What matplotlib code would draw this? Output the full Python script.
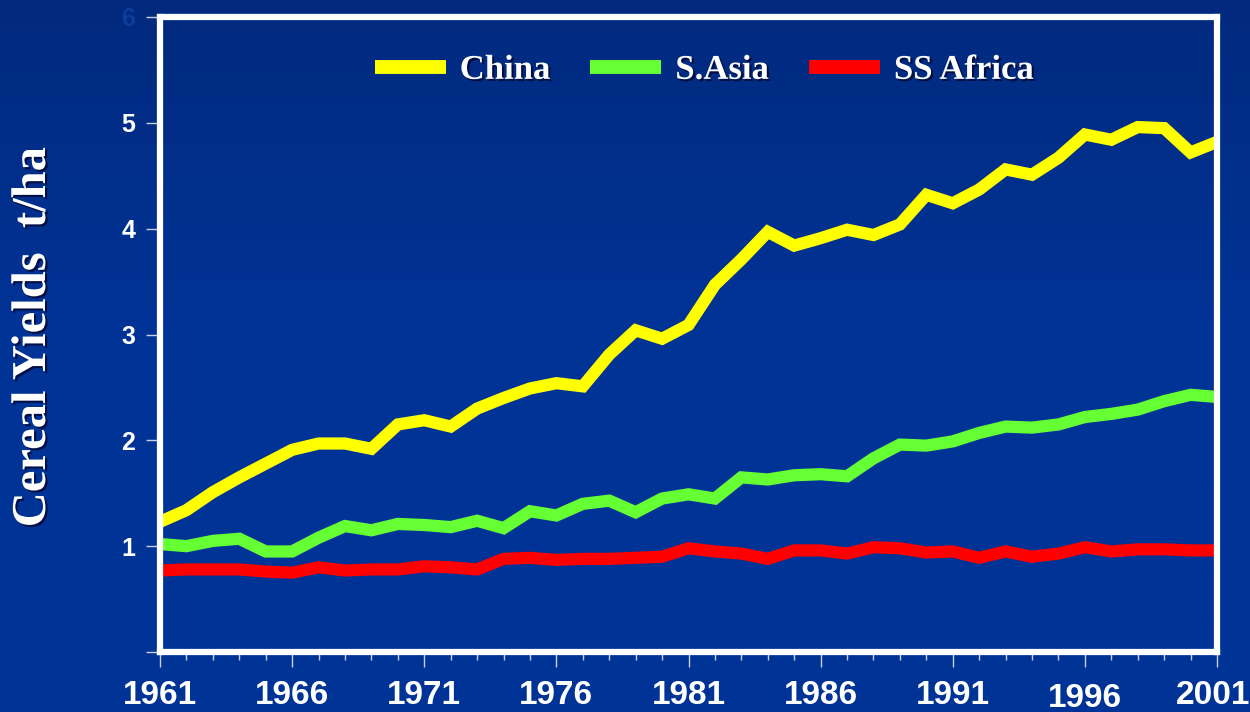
import numpy as np
import matplotlib
matplotlib.use("Agg")
import matplotlib.pyplot as plt
import matplotlib.patheffects as pe
from matplotlib.transforms import ScaledTranslation

years = list(range(1961, 2002))
china = [1.23, 1.34, 1.51, 1.65, 1.78, 1.91, 1.97, 1.97, 1.92, 2.15,
         2.19, 2.13, 2.30, 2.40, 2.49, 2.54, 2.51, 2.81, 3.04, 2.96,
         3.09, 3.47, 3.71, 3.97, 3.84, 3.91, 3.99, 3.94, 4.04, 4.32,
         4.24, 4.37, 4.56, 4.51, 4.67, 4.89, 4.84, 4.96, 4.95, 4.72, 4.82]
s_asia = [1.02, 1.00, 1.05, 1.07, 0.95, 0.95, 1.08, 1.19, 1.15, 1.21,
          1.20, 1.18, 1.24, 1.17, 1.33, 1.29, 1.40, 1.43, 1.32, 1.45,
          1.49, 1.45, 1.65, 1.63, 1.67, 1.68, 1.66, 1.83, 1.96, 1.95,
          1.99, 2.07, 2.13, 2.12, 2.15, 2.22, 2.25, 2.29, 2.37, 2.43, 2.41]
ss_africa = [0.77, 0.78, 0.78, 0.78, 0.76, 0.75, 0.80, 0.77, 0.78, 0.78,
             0.81, 0.80, 0.78, 0.88, 0.89, 0.87, 0.88, 0.88, 0.89, 0.90,
             0.98, 0.95, 0.93, 0.88, 0.96, 0.96, 0.93, 0.99, 0.98, 0.94,
             0.95, 0.89, 0.95, 0.90, 0.93, 0.99, 0.95, 0.97, 0.97, 0.96, 0.96]
series_names = ["China", "S.Asia", "SS Africa"]
series_colors = ["#FFFF00", "#66FF33", "#FF0000"]
xtick_years = [1961, 1966, 1971, 1976, 1981, 1986, 1991, 1996, 2001]
ytick_vals = [0, 1, 2, 3, 4, 5, 6]
ytick_labels = ["", "1", "2", "3", "4", "5", "6"]
ylabel_text = "Cereal Yields  t/ha"

W, H = 1250, 712
fig = plt.figure(figsize=(W / 100, H / 100), dpi=100)

# background gradient
bg = fig.add_axes([0, 0, 1, 1], zorder=-10)
top = np.array([0x02, 0x2A, 0x7E]) / 255.0
mid = np.array([0x00, 0x33, 0x96]) / 255.0
t = np.linspace(0, 1, 300)
w = np.clip(t / 0.45, 0, 1)[:, None]
grad = top[None, :] * (1 - w) + mid[None, :] * w
bg.imshow(grad[:, None, :], aspect="auto", extent=[0, 1, 0, 1], origin="upper")
bg.set_xlim(0, 1)
bg.set_ylim(0, 1)
bg.axis("off")

left = 160 / W
right = 1217 / W
bottom = (H - 652) / H
topp = (H - 17) / H
ax = fig.add_axes([left, bottom, right - left, topp - bottom])
ax.set_facecolor("none")

lines = []
for vals, name, col in zip([china, s_asia, ss_africa], series_names, series_colors):
    ln, = ax.plot(years, vals, color=col, lw=8.8, label=name, solid_joinstyle="miter",
                  solid_capstyle="butt", zorder=3)
    lines.append(ln)

ax.set_xlim(1961, 2001)
ax.set_ylim(0, 6)

for s in ax.spines.values():
    s.set_color("white")
    s.set_linewidth(4.5)
    s.set_zorder(4)

ax.set_yticks(ytick_vals)
ax.set_yticklabels(ytick_labels)
ax.set_xticks(xtick_years)
ax.set_xticklabels([str(y) for y in xtick_years])
ax.set_xticks(years, minor=True)

ax.tick_params(axis="y", which="major", length=10, width=1, color="#c8d0e8", pad=8,
               labelsize=18, labelcolor="white")
ax.tick_params(axis="x", which="major", length=11, width=1, color="#c8d0e8", pad=9,
               labelsize=24, labelcolor="white")
ax.tick_params(axis="x", which="minor", length=6, width=1, color="#c8d0e8")

for lab in ax.get_yticklabels():
    lab.set_fontfamily("Liberation Sans")
    lab.set_fontweight("bold")
for lab in ax.get_xticklabels():
    lab.set_fontfamily("Liberation Sans")
    lab.set_fontweight("bold")

# faint "6" label
ax.get_yticklabels()[-1].set_color("#0d3c9f")
# 1996 label slightly lower, 2001 nudged inside the canvas
xlabs = ax.get_xticklabels()
lab1996 = xlabs[xtick_years.index(1996)]
lab1996.set_transform(lab1996.get_transform() + ScaledTranslation(0, -3 / 100, fig.dpi_scale_trans))
lab2001 = xlabs[xtick_years.index(2001)]
lab2001.set_transform(lab2001.get_transform() + ScaledTranslation(-4 / 100, 0, fig.dpi_scale_trans))

shadow = [pe.SimplePatchShadow(offset=(1.5, -1.5), shadow_rgbFace="#000022", alpha=0.7), pe.Normal()]

fig.text(33 / W, 1 - 337 / H, ylabel_text, rotation=90, ha="center", va="center",
         color="white", fontsize=35, fontweight="bold", family="Liberation Serif",
         path_effects=shadow)

leg = ax.legend(handles=lines, loc="center", bbox_to_anchor=(0.515, 0.916), ncol=3,
                frameon=False, handlelength=2.05, handletextpad=0.4, columnspacing=1.15,
                prop={"family": "Liberation Serif", "weight": "bold", "size": 25})
for txt in leg.get_texts():
    txt.set_color("white")
    txt.set_path_effects(shadow)
for h in leg.legend_handles:
    h.set_linewidth(10)

fig.savefig("out.png", dpi=100, facecolor=fig.get_facecolor())
